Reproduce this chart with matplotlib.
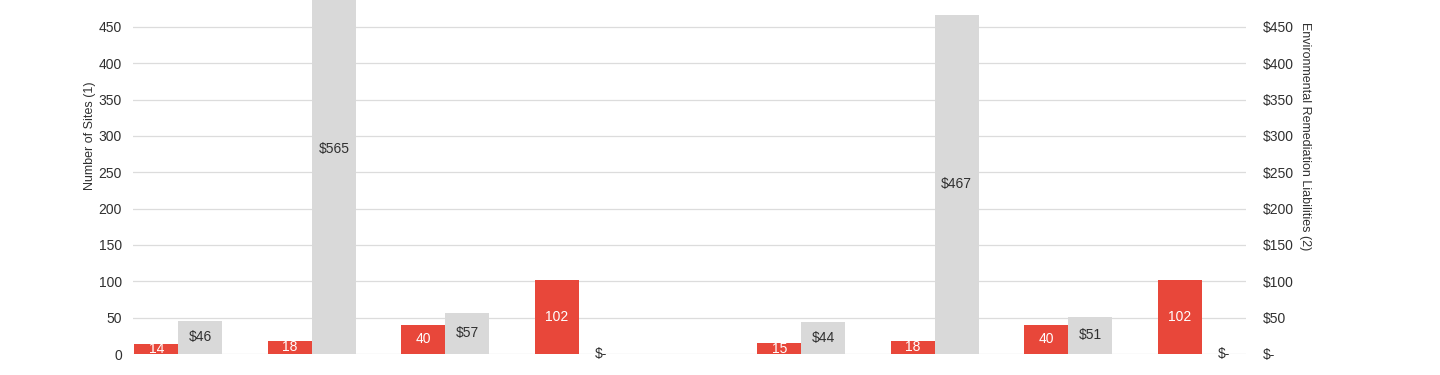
#!/usr/bin/env python3

import numpy as np
import matplotlib
matplotlib.use("Agg")
import matplotlib.pyplot as plt
from matplotlib.ticker import FuncFormatter, MultipleLocator

plt.rcParams["font.family"] = ["Liberation Sans", "DejaVu Sans"]

# values
sites = [14, 18, 40, 102, 15, 18, 40, 102]
liabilities = [46, 565, 57, 0, 44, 467, 51, 0]

RED = "#e8473a"
GREY = "#d9d9d9"
TXT = "#303030"

# two blocks of four categories, with a wider gap between them
block_gap = 0.667
x = np.concatenate([np.arange(4), np.arange(4) + 4 + block_gap])
w = 0.33

fig = plt.figure(figsize=(14.4, 3.75), dpi=100)
ax = fig.add_axes([0.0924, 0.056, 0.7729, 0.969])
ax2 = ax.twinx()

ax.bar(x - w / 2, sites, width=w, color=RED, zorder=2)
ax2.bar(x + w / 2, liabilities, width=w, color=GREY, zorder=2)

for xi, v in zip(x, sites):
    ax.text(xi - w / 2, v / 2, f"{v}", ha="center", va="center",
            color="white", fontsize=10, zorder=3)

for xi, v in zip(x, liabilities):
    label = "$-" if v == 0 else f"${v}"
    ax2.text(xi + w / 2, v / 2, label, ha="center", va="center",
             color=TXT, fontsize=10, zorder=3)

for a in (ax, ax2):
    a.set_ylim(0, 500)
    a.set_xlim(-0.34, 8.0)
    a.yaxis.set_major_locator(MultipleLocator(50))
    a.tick_params(axis="y", length=0, labelsize=10, labelcolor=TXT)
    for s in a.spines.values():
        s.set_visible(False)

ax.tick_params(axis="y", pad=8)
ax2.tick_params(axis="y", pad=12)

ax.set_xticks([])
ax.grid(axis="y", color="#dcdcdc", linewidth=0.9)
ax.set_axisbelow(True)

ax2.yaxis.set_major_formatter(
    FuncFormatter(lambda v, p: "$-" if v == 0 else f"${v:.0f}"))

ax.set_ylabel("Number of Sites (1)", fontsize=9, color=TXT)
ax.yaxis.set_label_coords(-0.033, 0.6)
ax2.set_ylabel("Environmental Remediation Liabilities (2)", fontsize=9,
               color=TXT, rotation=-90, va="bottom")
ax2.yaxis.set_label_coords(1.048, 0.6)

fig.savefig("out.png", dpi=100)
